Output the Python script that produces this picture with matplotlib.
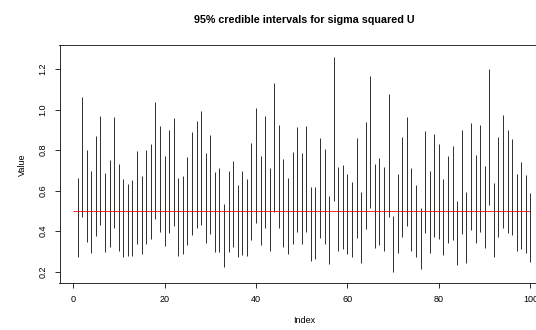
import numpy as np
import matplotlib
matplotlib.use("Agg")
import matplotlib.pyplot as plt

plt.rcParams['font.family'] = ['Liberation Sans', 'DejaVu Sans']

# 95% credible interval bounds, one per index 1..100
lower = [0.275, 0.469, 0.349, 0.291, 0.378, 0.431, 0.299, 0.324, 0.418, 0.304,
         0.273, 0.280, 0.280, 0.337, 0.286, 0.337, 0.360, 0.461, 0.398, 0.329,
         0.393, 0.428, 0.276, 0.286, 0.332, 0.382, 0.415, 0.431, 0.341, 0.387,
         0.299, 0.299, 0.225, 0.299, 0.324, 0.272, 0.283, 0.280, 0.357, 0.439,
         0.332, 0.415, 0.303, 0.497, 0.415, 0.324, 0.286, 0.337, 0.395, 0.336,
         0.398, 0.253, 0.262, 0.365, 0.337, 0.239, 0.551, 0.303, 0.311, 0.288,
         0.275, 0.369, 0.242, 0.410, 0.513, 0.316, 0.332, 0.304, 0.469, 0.197,
         0.291, 0.374, 0.426, 0.303, 0.272, 0.212, 0.390, 0.295, 0.374, 0.362,
         0.283, 0.341, 0.357, 0.234, 0.387, 0.245, 0.406, 0.341, 0.398, 0.316,
         0.530, 0.272, 0.374, 0.415, 0.393, 0.382, 0.300, 0.313, 0.291, 0.250]
upper = [0.662, 1.062, 0.801, 0.695, 0.871, 0.968, 0.686, 0.752, 0.963, 0.731,
         0.657, 0.634, 0.653, 0.797, 0.675, 0.800, 0.831, 1.037, 0.918, 0.772,
         0.900, 0.960, 0.662, 0.675, 0.765, 0.889, 0.945, 0.996, 0.785, 0.876,
         0.693, 0.711, 0.533, 0.696, 0.747, 0.629, 0.695, 0.658, 0.836, 1.007,
         0.772, 0.971, 0.711, 1.131, 0.923, 0.755, 0.665, 0.790, 0.917, 0.785,
         0.920, 0.616, 0.620, 0.859, 0.805, 0.576, 1.262, 0.719, 0.727, 0.681,
         0.642, 0.859, 0.596, 0.938, 1.164, 0.731, 0.760, 0.719, 1.076, 0.476,
         0.681, 0.864, 0.966, 0.711, 0.629, 0.513, 0.897, 0.695, 0.879, 0.829,
         0.658, 0.772, 0.821, 0.551, 0.900, 0.592, 0.933, 0.777, 0.925, 0.723,
         1.200, 0.640, 0.864, 0.974, 0.900, 0.856, 0.683, 0.744, 0.678, 0.588]
index = np.arange(1, len(lower) + 1)
ref_value = 0.5
xticks = [0, 20, 40, 60, 80, 100]
yticks = [0.2, 0.4, 0.6, 0.8, 1.0, 1.2]

fig = plt.figure(figsize=(536 / 72, 330 / 72), dpi=72)
# plot region runs past the right edge, like the cropped original
ax = fig.add_axes([59.5 / 536, 46.7 / 330, 489 / 536, 238 / 330])

ax.vlines(index, lower, upper, color='black', lw=0.8)
ax.hlines(ref_value, 0, 100, color='red', lw=0.8)

ax.set_xlim(-2.96, 103.96)
ax.set_ylim(0.143, 1.318)
ax.set_xticks(xticks)
ax.set_xticklabels([str(t) for t in xticks])
ax.set_yticks(yticks)
ax.set_yticklabels([f"{t:.1f}" for t in yticks], rotation=90, va='center')

ax.tick_params(direction='out', length=5, width=0.8, labelsize=9, pad=7,
               colors='black')
for s in ax.spines.values():
    s.set_linewidth(0.8)

ax.set_xlabel('Index', fontsize=9, labelpad=12)
ax.set_ylabel('Value', fontsize=9, labelpad=12)

fig.text((59.5 + 548.4) / 2 / 536, 1 - 20 / 330,
         '95% credible intervals for sigma squared U',
         ha='center', va='center', fontsize=10.7, fontweight='bold')

fig.savefig('out.png', dpi=72)
